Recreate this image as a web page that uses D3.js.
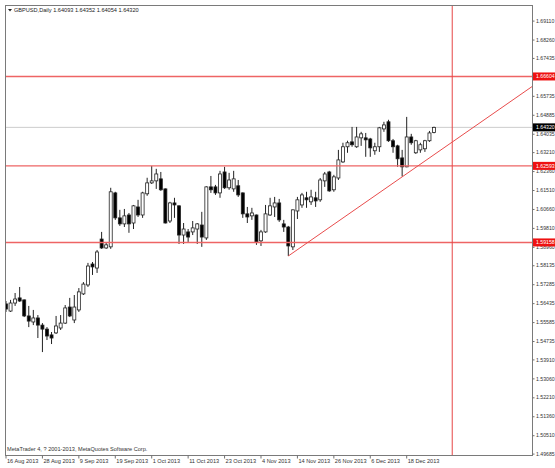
<!DOCTYPE html>
<html>
<head>
<meta charset="utf-8">
<script src="https://cdn.jsdelivr.net/npm/d3@7"></script>
<style>
body { margin: 0; background: #fff; }
svg { display: block; font-family: "Liberation Sans", Arial, sans-serif; }
</style>
</head>
<body>
<svg id="chart" width="555" height="468"></svg>
<script>
// GBPUSD daily bars, one entry per bar (bar 0 = 16 Aug 2013)
var opens = [1.5640,1.5608,1.5644,1.5667,1.5658,1.5586,1.5559,1.5577,1.5545,1.5527,
	1.5501,1.5510,1.5532,1.5554,1.5626,1.5568,1.5613,1.5685,1.5725,1.5819,
	1.5801,1.5931,1.5891,1.5896,1.6138,1.6026,1.5999,1.6039,1.6003,1.6075,
	1.6039,1.6134,1.6183,1.6192,1.6201,1.6156,1.6012,1.6093,1.6080,1.5949,
	1.5963,1.5963,1.5976,1.5994,1.5936,1.6165,1.6165,1.6138,1.6232,1.6161,
	1.6156,1.6170,1.6138,1.6044,1.6035,1.6039,1.5923,1.5963,1.6039,1.6075,
	1.6093,1.5999,1.5985,1.5896,1.6057,1.6084,1.6116,1.6098,1.6116,1.6107,
	1.6192,1.6232,1.6152,1.6205,1.6277,1.6345,1.6367,1.6345,1.6385,1.6385,
	1.6380,1.6327,1.6345,1.6425,1.6457,1.6372,1.6349,1.6295,1.6255,1.6389,
	1.6318,1.6331,1.6336,1.6372,1.64093];
var highs = [1.5653,1.5658,1.5689,1.5716,1.5660,1.5631,1.5613,1.5590,1.5554,1.5536,
	1.5514,1.5586,1.5590,1.5635,1.5667,1.5680,1.5711,1.5738,1.5824,1.5828,
	1.5882,1.5963,1.5914,1.6161,1.6143,1.6062,1.6066,1.6048,1.6084,1.6107,
	1.6143,1.6206,1.6259,1.6246,1.6232,1.6158,1.6098,1.6116,1.6082,1.6003,
	1.5976,1.6012,1.6003,1.6053,1.6168,1.6214,1.6174,1.6237,1.6255,1.6228,
	1.6237,1.6196,1.6140,1.6075,1.6071,1.6041,1.5972,1.6084,1.6116,1.6120,
	1.6111,1.6017,1.5990,1.6064,1.6120,1.6138,1.6143,1.6152,1.6143,1.6205,
	1.6232,1.6237,1.6219,1.6331,1.6363,1.6372,1.6434,1.6434,1.6412,1.6407,
	1.6385,1.6363,1.6434,1.6457,1.6466,1.6380,1.6354,1.6331,1.6479,1.6403,
	1.6376,1.6363,1.6376,1.6416,1.64352];
var lows = [1.5604,1.5604,1.5631,1.5649,1.5581,1.5536,1.5545,1.5487,1.5424,1.5478,
	1.5460,1.5505,1.5523,1.5550,1.5581,1.5554,1.5604,1.5680,1.5716,1.5770,
	1.5779,1.5887,1.5887,1.5887,1.6017,1.5990,1.5985,1.5959,1.5976,1.6030,
	1.6026,1.6125,1.6178,1.6156,1.6147,1.6001,1.6003,1.6026,1.5909,1.5909,
	1.5918,1.5949,1.5909,1.5896,1.5927,1.6138,1.6129,1.6116,1.6156,1.6152,
	1.6143,1.6120,1.6026,1.6003,1.6017,1.5905,1.5900,1.5959,1.6035,1.6030,
	1.6008,1.5963,1.5855,1.5882,1.6021,1.6071,1.6071,1.6084,1.6075,1.6098,
	1.6165,1.6143,1.6143,1.6196,1.6273,1.6318,1.6345,1.6340,1.6349,1.6300,
	1.6300,1.6309,1.6322,1.6412,1.6367,1.6318,1.6255,1.6212,1.6253,1.6354,
	1.6313,1.6318,1.6322,1.6367,1.64054];
var closes = [1.5617,1.5644,1.5662,1.5653,1.5586,1.5563,1.5577,1.5545,1.5527,1.5496,
	1.5487,1.5541,1.5554,1.5622,1.5586,1.5626,1.5694,1.5729,1.5810,1.5806,
	1.5873,1.5891,1.5905,1.6143,1.6026,1.5999,1.6035,1.5999,1.6080,1.6039,
	1.6138,1.6183,1.6192,1.6223,1.6152,1.6003,1.6093,1.6084,1.5949,1.5976,
	1.5940,1.5981,1.5999,1.5940,1.6165,1.6152,1.6138,1.6223,1.6161,1.6196,
	1.6201,1.6129,1.6044,1.6030,1.6048,1.5918,1.5963,1.6044,1.6080,1.6093,
	1.6017,1.5985,1.5900,1.6062,1.6107,1.6129,1.6107,1.6120,1.6102,1.6196,
	1.6223,1.6147,1.6210,1.6286,1.6345,1.6363,1.6354,1.6389,1.6403,1.6376,
	1.6340,1.6345,1.6430,1.6443,1.6372,1.6345,1.6291,1.6255,1.6389,1.6363,
	1.6372,1.6354,1.6372,1.6407,1.64320];

// time axis labels, one every 8 bars
var dateLabels = ["16 Aug 2013","28 Aug 2013","9 Sep 2013","19 Sep 2013","1 Oct 2013","11 Oct 2013",
	"23 Oct 2013","4 Nov 2013","14 Nov 2013","26 Nov 2013","6 Dec 2013","18 Dec 2013"];
var dateBars = [0,8,16,24,32,40,48,56,64,72,80,88];

// price axis labels
var priceTicks = [1.69110,1.68260,1.67435,1.66585,1.65735,1.64885,1.64035,1.63210,1.62360,1.61510,
	1.60660,1.59810,1.58960,1.58135,1.57285,1.56435,1.55585,1.54735,1.53910,1.53060,
	1.52210,1.51360,1.50510,1.49685];

// drawn objects
var levelLines = [1.66604, 1.62593, 1.59158];
var trendBars = [62, 87];
var trendPrices = [1.5855, 1.6210];
var vLineBar = 98;

var symbol = "GBPUSD,Daily";
var footer = "MetaTrader 4, ? 2001-2013, MetaQuotes Software Corp.";

// plot box (note: "top" is reserved on window, so prefixed names)
var boxL = 5.5, boxT = 5.5, boxR = 532.5, boxB = 455.5;
var svg = d3.select("#chart");

var x = d3.scaleLinear().domain([0, 88]).range([6, 406.7]);
var y = d3.scaleLinear().domain([1.49685, 1.69110]).range([453.6, 20.6]);

svg.append("defs").append("clipPath").attr("id", "plotclip")
	.append("rect").attr("x", boxL).attr("y", boxT)
	.attr("width", boxR - boxL).attr("height", boxB - boxT);

var plot = svg.append("g").attr("clip-path", "url(#plotclip)");

// current price line
var last = closes[closes.length - 1];
plot.append("line")
	.attr("x1", boxL).attr("x2", boxR)
	.attr("y1", y(last)).attr("y2", y(last))
	.attr("stroke", "#cdcdcd").attr("stroke-width", 1);

// candles
var bars = d3.range(opens.length);
var candle = plot.selectAll("g.candle").data(bars).enter()
	.append("g").attr("class", "candle");
candle.append("line")
	.attr("x1", function(i) { return x(i); })
	.attr("x2", function(i) { return x(i); })
	.attr("y1", function(i) { return y(highs[i]); })
	.attr("y2", function(i) { return y(lows[i]); })
	.attr("stroke", "#222").attr("stroke-width", 1);
candle.append("rect")
	.attr("x", function(i) { return x(i) - 1.5; })
	.attr("width", 3)
	.attr("y", function(i) { return y(Math.max(opens[i], closes[i])); })
	.attr("height", function(i) { return Math.max(1, Math.abs(y(opens[i]) - y(closes[i]))); })
	.attr("fill", function(i) { return closes[i] >= opens[i] ? "#fff" : "#000"; })
	.attr("stroke", "#222").attr("stroke-width", 0.8);

// horizontal levels
plot.selectAll("line.level").data(levelLines).enter()
	.append("line").attr("class", "level")
	.attr("x1", boxL).attr("x2", boxR)
	.attr("y1", function(d) { return y(d); })
	.attr("y2", function(d) { return y(d); })
	.attr("stroke", "#ee6464").attr("stroke-width", 1.4);

// vertical line
plot.append("line")
	.attr("x1", x(vLineBar)).attr("x2", x(vLineBar))
	.attr("y1", boxT).attr("y2", boxB)
	.attr("stroke", "#e64646").attr("stroke-width", 1);

// trend line, extended to the right edge
var slope = (trendPrices[1] - trendPrices[0]) / (trendBars[1] - trendBars[0]);
var endBar = x.invert(boxR);
plot.append("line")
	.attr("x1", x(trendBars[0])).attr("y1", y(trendPrices[0]))
	.attr("x2", x(endBar)).attr("y2", y(trendPrices[0] + slope * (endBar - trendBars[0])))
	.attr("stroke", "#e84c4c").attr("stroke-width", 1);

// frame
svg.append("rect")
	.attr("x", boxL).attr("y", boxT)
	.attr("width", boxR - boxL).attr("height", boxB - boxT)
	.attr("fill", "none").attr("stroke", "#7a7a7a").attr("stroke-width", 1);

// price axis
var yAxis = svg.append("g")
	.attr("transform", "translate(" + boxR + ",0)")
	.call(d3.axisRight(y).tickValues(priceTicks).tickFormat(d3.format(".5f"))
		.tickSize(2).tickPadding(1.5));
yAxis.select(".domain").remove();
yAxis.selectAll("line").attr("stroke", "#707070");
yAxis.selectAll("text").attr("font-size", "5.2px").attr("fill", "#333")
	.attr("font-family", "Liberation Sans, Arial, sans-serif");

// price labels for the levels and the last close
function priceTag(p, bg) {
	var g = svg.append("g").attr("transform", "translate(" + (boxR + 0.5) + "," + y(p) + ")");
	g.append("rect").attr("x", 0).attr("y", -4).attr("width", 23).attr("height", 8).attr("fill", bg);
	g.append("text").attr("x", 3).attr("y", 1.9).attr("font-size", "5.2px").attr("fill", "#fff")
		.text(d3.format(".5f")(p));
}
levelLines.forEach(function(p) { priceTag(p, "#ee1111"); });
priceTag(last, "#000");

// time axis
var xAxis = svg.append("g").attr("class", "xaxis");
xAxis.selectAll("line").data(dateBars).enter().append("line")
	.attr("x1", function(b) { return x(b); }).attr("x2", function(b) { return x(b); })
	.attr("y1", boxB).attr("y2", boxB + 3)
	.attr("stroke", "#707070");
xAxis.selectAll("text").data(dateBars).enter().append("text")
	.attr("x", function(b) { return x(b) + 1; })
	.attr("y", 463)
	.attr("font-size", "5.6px").attr("fill", "#333")
	.text(function(b, i) { return dateLabels[i]; });

// title line
svg.append("path").attr("d", "M8,9 L12,9 L10,11.5 Z").attr("fill", "#222");
svg.append("text").attr("x", 14).attr("y", 12)
	.attr("font-size", "5.6px").attr("fill", "#222")
	.text(symbol + "  " + [opens, highs, lows, closes].map(function(a) {
		return d3.format(".5f")(a[a.length - 1]);
	}).join(" "));

// copyright
svg.append("text").attr("x", 7).attr("y", 451)
	.attr("font-size", "5.6px").attr("fill", "#333")
	.text(footer);
</script>
</body>
</html>
